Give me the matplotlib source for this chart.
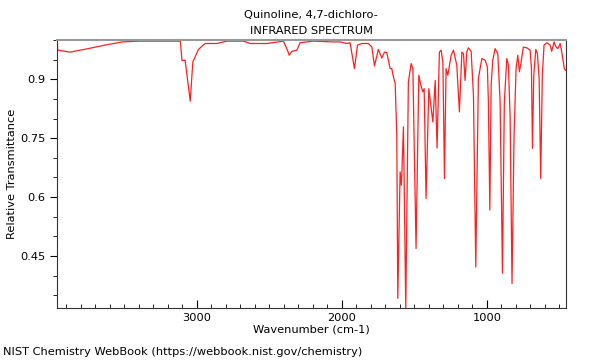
import matplotlib
matplotlib.use("Agg")
import matplotlib.pyplot as plt
from matplotlib.ticker import MultipleLocator

# spectrum points (wavenumber cm-1, relative transmittance)
wavenumber = [3963, 3960, 3874, 3750, 3632, 3515, 3405, 3114, 3103, 3081, 3046, 3028, 2989,
              2943, 2862, 2793, 2679, 2632, 2517, 2403, 2375, 2363, 2345, 2310, 2288, 2196,
              2058, 2012, 1966, 1943, 1913, 1892, 1862, 1817, 1793, 1775, 1748, 1724, 1706,
              1690, 1667, 1655, 1648, 1632, 1621, 1614, 1598, 1589, 1575, 1559, 1541, 1522,
              1510, 1488, 1469, 1455, 1441, 1432, 1419, 1400, 1372, 1356, 1343, 1327, 1315,
              1303, 1292, 1281, 1269, 1246, 1230, 1207, 1189, 1172, 1161, 1150, 1138, 1127,
              1108, 1092, 1076, 1058, 1034, 1011, 996, 989, 979, 970, 959, 943, 924, 908,
              892, 879, 862, 851, 839, 826, 812, 798, 786, 775, 763, 748, 724, 701, 692,
              685, 676, 662, 651, 639, 628, 617, 605, 586, 563, 552, 536, 522, 510, 494,
              483, 465, 458]
transmittance = [0.998, 0.974, 0.969, 0.978, 0.987, 0.995, 0.997, 0.997, 0.948, 0.948, 0.844,
                 0.944, 0.976, 0.991, 0.991, 0.997, 0.997, 0.991, 0.991, 0.997, 0.974, 0.961,
                 0.971, 0.974, 0.993, 0.997, 0.995, 0.995, 0.991, 0.993, 0.927, 0.987, 0.991,
                 0.991, 0.982, 0.934, 0.976, 0.954, 0.969, 0.968, 0.927, 0.927, 0.912, 0.889,
                 0.757, 0.342, 0.664, 0.630, 0.779, 0.316, 0.893, 0.940, 0.927, 0.469, 0.910,
                 0.885, 0.868, 0.876, 0.596, 0.876, 0.791, 0.897, 0.725, 0.969, 0.974, 0.944,
                 0.647, 0.927, 0.910, 0.961, 0.974, 0.936, 0.817, 0.969, 0.965, 0.897, 0.969,
                 0.980, 0.971, 0.859, 0.422, 0.902, 0.953, 0.948, 0.931, 0.842, 0.567, 0.885,
                 0.948, 0.978, 0.965, 0.842, 0.406, 0.842, 0.953, 0.936, 0.800, 0.380, 0.757,
                 0.927, 0.961, 0.919, 0.944, 0.982, 0.980, 0.974, 0.927, 0.724, 0.910, 0.976,
                 0.965, 0.902, 0.647, 0.910, 0.987, 0.993, 0.987, 0.971, 0.995, 0.982, 0.978,
                 0.991, 0.969, 0.927, 0.923]

fig = plt.figure(figsize=(6, 3.6), dpi=100)
ax = fig.add_axes([0.095, 0.145, 0.848, 0.744])

ax.plot(wavenumber, transmittance, color="#ff2020", linewidth=0.9)

ax.set_xlim(3965, 455)
ax.set_ylim(0.318, 1.0)

ax.xaxis.set_major_locator(MultipleLocator(1000))
ax.xaxis.set_minor_locator(MultipleLocator(100))
ax.yaxis.set_major_locator(MultipleLocator(0.15))
ax.yaxis.set_minor_locator(MultipleLocator(0.05))
ax.set_yticks([0.45, 0.6, 0.75, 0.9])
ax.set_yticklabels(["0.45", "0.6", "0.75", "0.9"])

fs = 8.2
ax.tick_params(axis="x", which="both", direction="in", labelsize=fs)
ax.tick_params(axis="x", which="major", length=6)
ax.tick_params(axis="x", which="minor", length=3)
ax.tick_params(axis="y", which="both", direction="out", labelsize=fs)
ax.tick_params(axis="y", which="major", length=5)
ax.tick_params(axis="y", which="minor", length=3)

for side in ["left", "bottom", "right"]:
    ax.spines[side].set_color("#333333")
ax.spines["top"].set_color("#999999")
ax.spines["top"].set_linewidth(1.5)

ax.set_xlabel("Wavenumber (cm-1)", fontsize=fs, labelpad=1)
ax.set_ylabel("Relative Transmittance", fontsize=fs, labelpad=2)
ax.set_title("Quinoline, 4,7-dichloro-\nINFRARED SPECTRUM", fontsize=fs, pad=4, linespacing=1.8)

fig.text(0.005, 0.022, "NIST Chemistry WebBook (https://webbook.nist.gov/chemistry)",
         fontsize=fs, va="center")

fig.savefig("out.png")
